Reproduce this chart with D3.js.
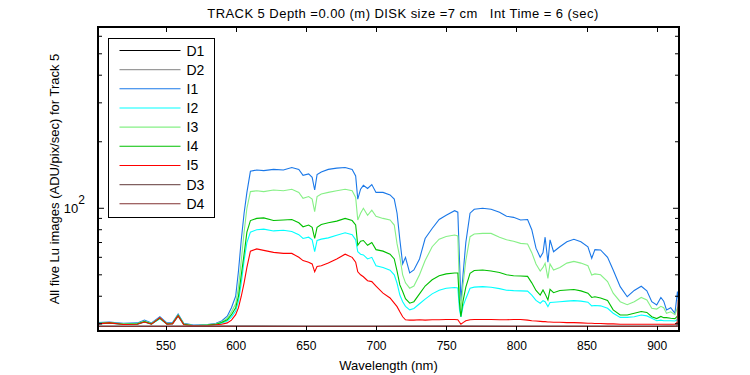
<!DOCTYPE html>
<html lang="en">
<head>
<meta charset="UTF-8">
<title>Track 5</title>
<script src="https://d3js.org/d3.v7.min.js"></script>
<style>
  body { margin: 0; background: #fff; }
  text { font-family: "Liberation Sans", Arial, sans-serif; fill: #000; }
</style>
</head>
<body>
<svg id="chart" width="750" height="375"></svg>
<script>
// wavelengths (nm) shared by the five image series
const wl = [502, 510, 520, 530, 535, 540, 546, 551, 555, 559, 563, 570, 580, 586, 590, 594, 597, 600, 602, 604,
  606, 608, 610.5, 615, 620, 627, 634, 640, 645, 648, 652, 654.5, 656.3, 658, 661, 666, 672, 678, 683, 685.5,
  687, 689, 691, 694, 697, 700, 705, 710, 713, 715, 717, 719, 721, 724, 727, 731, 735, 740, 745, 750,
  756, 758.3, 759.5, 760.5, 762, 764, 767, 770, 776, 782, 788, 793, 798, 803, 808, 811, 814, 817, 819, 820.5,
  822.5, 824, 826.5, 831, 836, 841, 846, 851, 853.7, 856, 860, 865, 869, 874, 879, 884, 889, 893, 896.5, 900,
  903, 905, 907, 910, 913, 914.8, 916];

const I1 = [30.4, 30.6, 30.2, 30.3, 31.2, 30.3, 32.3, 30.3, 30.4, 33.2, 30.2, 29.6, 29.8, 30.2, 30.9, 32.5, 35.5, 40, 52, 72,
  95, 118, 147, 149, 148, 150, 149, 153, 150, 141, 143, 138, 121, 142, 146, 150, 152, 153, 150, 140,
  110, 122, 127, 123, 128, 118, 118, 115, 110, 95, 72, 56, 60, 51, 52.6, 59, 73, 81, 89, 93,
  97.5, 96, 58, 38, 50, 70, 95, 99, 100, 99, 96, 92, 91, 88.5, 89, 80, 66, 60, 63, 74,
  57, 72, 63.6, 67, 70.6, 72.4, 70.6, 67, 59.4, 65, 64.8, 60, 52.6, 44.2, 39.8, 42.5, 44.4, 42.3, 37.8, 36.5,
  39.5, 38, 34.7, 35.5, 33.5, 42, 36];

const I2 = [30.0, 30.2, 29.8, 29.9, 30.6, 29.9, 31.6, 29.9, 30.0, 32.5, 29.8, 29.4, 29.5, 29.8, 30.2, 30.9, 32.2, 34.3, 38, 46,
  58, 70, 78, 80, 80.5, 79, 79.5, 78.5, 76, 73, 74, 72, 63.6, 71.5, 72.5, 73.5, 75.5, 77.5, 76, 72,
  63.6, 62, 61.5, 59, 60, 55, 54, 52.5, 50, 45.8, 40.5, 37.8, 36, 34.7, 35.2, 37, 38.8, 41, 42.6, 43.5,
  43.8, 43.6, 34.7, 32.3, 36, 39, 43.5, 44, 44.2, 43.9, 43.3, 42.6, 42.4, 42.3, 42.2, 40.5, 38.3, 37.2, 38.2, 37.8,
  35.9, 37.5, 37.6, 37.8, 38, 38.2, 38, 37.6, 36.2, 36.3, 36.2, 35.3, 33.5, 32.1, 32.1, 32.3, 32.9, 32.6, 31.8, 31,
  31.2, 31, 31, 31, 30.9, 31.4, 30.8];

const I3 = [30.2, 30.4, 30.0, 30.1, 30.9, 30.1, 32.0, 30.1, 30.2, 32.9, 30.0, 29.5, 29.7, 30.0, 30.6, 31.8, 34, 37, 44, 58,
  78, 100, 119, 120, 119, 121, 120, 122, 118, 111, 113, 110, 96.5, 113, 116, 118, 120, 122, 120, 112,
  88.5, 95, 100, 93, 98, 92, 90, 88.5, 84, 69, 60, 50, 46, 43.5, 44.5, 50, 58, 67, 72.5, 74.5,
  75.7, 75, 42, 34.7, 45, 58, 74.4, 76.5, 77, 77, 74, 72, 71, 69.4, 69, 63, 56, 52, 54, 56.4,
  48.2, 56, 52.6, 54, 56.5, 57.5, 56.5, 55, 49.9, 50.5, 50, 46.6, 41.3, 37.8, 36.6, 37.8, 39.5, 38.5, 35.3, 35,
  36, 35.5, 33.5, 34, 33, 35.5, 34];

const I4 = [30.1, 30.3, 29.9, 30.0, 30.7, 30.0, 31.8, 30.0, 30.1, 32.7, 29.9, 29.4, 29.6, 29.9, 30.4, 31.3, 33, 35.5, 40, 50,
  62, 78, 88, 90, 90.5, 88, 88.5, 89, 86, 82.5, 84, 82, 73, 82, 84.5, 86, 87.5, 90, 88, 84,
  68, 71, 71.5, 68, 70, 65, 64, 62, 59, 52, 45, 42, 39, 37.2, 37.8, 41, 44.5, 47.5, 49.5, 50.5,
  51, 51, 37.2, 32.3, 38, 44, 50.8, 52.3, 52.6, 52, 51.2, 50, 49.5, 49.4, 49.2, 46, 42.5, 40.5, 42.7, 41,
  38.5, 43, 41.5, 42.5, 42.7, 42.9, 42.3, 41.3, 39.5, 39.8, 39.3, 38.3, 34.7, 32.9, 32.9, 33.5, 34.1, 33.8, 32.3, 31.7,
  32.4, 32, 32, 31.8, 31.7, 32.5, 31.5];

const I5 = [30.0, 30.3, 29.8, 29.9, 30.6, 29.9, 32.0, 29.9, 30.0, 32.6, 29.7, 29.4, 29.5, 29.7, 29.9, 30.3, 31.2, 33, 35.5, 40,
  46, 54, 64, 65.5, 64.5, 63.2, 62.5, 62.5, 60, 58, 57, 56, 51.6, 54.5, 55, 56.5, 59, 62, 60, 57,
  51.6, 50, 49, 47, 46.6, 44.5, 41.3, 39.3, 37.2, 35.9, 34, 32.3, 31.3, 31.2, 31.2, 31.3, 31.2, 31.3, 31.3, 31.4,
  31.4, 31.3, 30.5, 29.9, 30.4, 31, 31.3, 31.4, 31.4, 31.4, 31.3, 31.3, 31.4, 31.4, 31.2, 31, 30.9, 30.8, 30.7, 30.7,
  30.6, 30.6, 30.5, 30.5, 30.4, 30.4, 30.3, 30.2, 30.2, 30.1, 30.1, 30, 30, 29.9, 29.9, 29.9, 29.9, 29.9, 29.9, 29.9,
  29.9, 29.9, 29.9, 29.9, 29.9, 30.5, 29.9];

// dark frames
const wlDark = [502, 550, 600, 650, 700, 750, 800, 850, 900, 914.5, 915.3, 916];
const D1 = [29.2, 29.2, 29.2, 29.2, 29.2, 29.2, 29.2, 29.2, 29.2, 29.2, 29.2, 29.2];
const D2 = [29.3, 29.3, 29.3, 29.3, 29.3, 29.3, 29.3, 29.3, 29.3, 29.3, 29.3, 29.3];
const D3 = [29.3, 29.3, 29.4, 29.3, 29.3, 29.4, 29.3, 29.3, 29.3, 29.3, 29.4, 29.3];
const D4 = [29.2, 29.2, 29.2, 29.2, 29.2, 29.2, 29.2, 29.2, 29.2, 29.3, 38.6, 29.2];

const seriesNames = ["D1", "D2", "I1", "I2", "I3", "I4", "I5", "D3", "D4"];
const seriesColors = ["#000000", "#9a9a9a", "#1a78e8", "#00ffff", "#86f086", "#00c000", "#ff0000", "#806060", "#803232"];
const seriesX = [wlDark, wlDark, wl, wl, wl, wl, wl, wlDark, wlDark];
const seriesY = [D1, D2, I1, I2, I3, I4, I5, D3, D4];

const xTicks = [550, 600, 650, 700, 750, 800, 850, 900];
const yTicks = [30, 40, 50, 60, 70, 80, 90, 100, 200, 300, 400, 500, 600];

const margin = {left: 98, top: 27, right: 71, bottom: 44};
const width = 750 - margin.left - margin.right;
const height = 375 - margin.top - margin.bottom;

const svg = d3.select("#chart");
const g = svg.append("g").attr("transform", `translate(${margin.left},${margin.top})`);

const x = d3.scaleLinear().domain([501.9, 915.9]).range([0, width]);
const y = d3.scaleLog().domain([27.85, 661]).range([height, 0]);

g.append("clipPath").attr("id", "clip")
  .append("rect").attr("width", width).attr("height", height);

const line = d3.line()
  .x(d => x(d[0]))
  .y(d => y(d[1]));

seriesNames.forEach((name, i) => {
  const pts = seriesX[i].map((w, j) => [w, seriesY[i][j]]);
  g.append("path")
    .datum(pts)
    .attr("clip-path", "url(#clip)")
    .attr("fill", "none")
    .attr("stroke", seriesColors[i])
    .attr("stroke-width", 1.1)
    .attr("d", line);
});

// axes, ticks pointing inward on all four sides
const tickLen = v => (v === 100 ? 6 : 4);
g.append("g").attr("transform", `translate(0,${height})`)
  .call(d3.axisBottom(x).tickValues(xTicks).tickSizeInner(-5).tickSizeOuter(0).tickPadding(10))
  .call(a => a.selectAll("text").attr("font-size", 12).attr("font-family", "Liberation Sans, Arial"));
g.append("g")
  .call(d3.axisTop(x).tickValues(xTicks).tickSizeInner(-5).tickSizeOuter(0).tickFormat(""));

const yl = g.append("g");
const yr = g.append("g").attr("transform", `translate(${width},0)`);
yTicks.forEach(v => {
  yl.append("line").attr("x1", 0).attr("x2", tickLen(v)).attr("y1", y(v)).attr("y2", y(v)).attr("stroke", "#000");
  yr.append("line").attr("x1", 0).attr("x2", -tickLen(v)).attr("y1", y(v)).attr("y2", y(v)).attr("stroke", "#000");
});

g.selectAll(".domain").remove();
g.append("rect")
  .attr("width", width).attr("height", height)
  .attr("fill", "none").attr("stroke", "#000").attr("stroke-width", 1.2)
  .attr("shape-rendering", "crispEdges");
g.selectAll(".tick line").attr("shape-rendering", "crispEdges");

// 10^2 label
const lab = g.append("text")
  .attr("x", -13).attr("y", y(100) + 5)
  .attr("text-anchor", "end")
  .attr("font-size", 13);
lab.append("tspan").text("10");
lab.append("tspan").attr("dy", -9).attr("font-size", 12).text("2");

// titles
svg.append("text")
  .attr("x", 403).attr("y", 18)
  .attr("text-anchor", "middle")
  .attr("font-size", 13)
  .attr("letter-spacing", 0.45)
  .attr("xml:space", "preserve")
  .style("white-space", "pre")
  .text("TRACK 5 Depth =0.00 (m) DISK size =7 cm   Int Time = 6 (sec)");

svg.append("text")
  .attr("x", margin.left + width / 2).attr("y", 370)
  .attr("text-anchor", "middle")
  .attr("font-size", 13)
  .text("Wavelength (nm)");

svg.append("text")
  .attr("transform", `translate(59,${margin.top + height / 2}) rotate(-90)`)
  .attr("text-anchor", "middle")
  .attr("font-size", 13)
  .text("All five Lu images (ADU/pix/sec) for Track 5");

// legend
const legend = g.append("g").attr("transform", "translate(10.5,11.5)");
legend.append("rect")
  .attr("width", 106).attr("height", 179)
  .attr("fill", "#fff").attr("stroke", "#000").attr("stroke-width", 1.2)
  .attr("shape-rendering", "crispEdges");
seriesNames.forEach((name, i) => {
  const ry = 12 + i * 19.16;
  legend.append("line")
    .attr("x1", 11).attr("x2", 72).attr("y1", ry).attr("y2", ry)
    .attr("stroke", seriesColors[i]).attr("stroke-width", 1.1);
  legend.append("text")
    .attr("x", 78).attr("y", ry + 5)
    .attr("font-size", 14)
    .text(name);
});
</script>
</body>
</html>
